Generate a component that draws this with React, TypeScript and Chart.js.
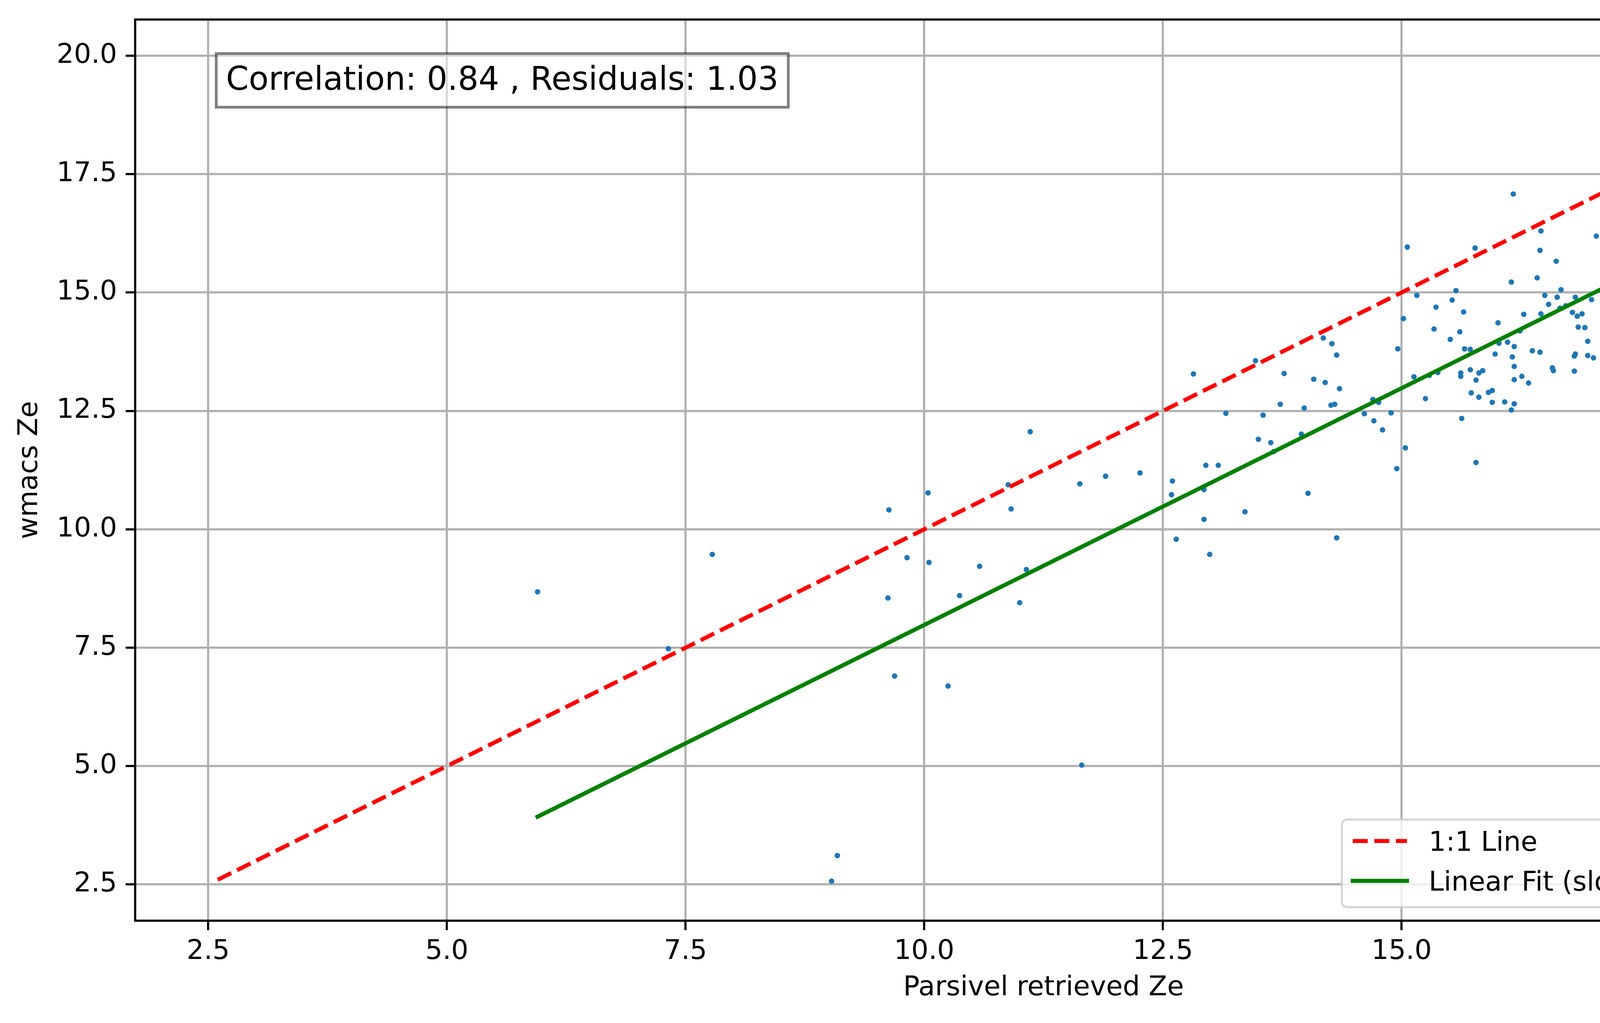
import { useEffect, useRef } from "react";
import Chart from "chart.js/auto";

// Parsivel retrieved Ze (x) and wmacs Ze (y), one entry per sample, rows of ten
const parsivelZe = [
  5.95, 7.32, 7.78, 9.69, 10.25, 11.65, 9.03, 9.09, 12.64, 12.99,
  14.32, 11.11, 9.63, 10.04, 10.88, 10.91, 11.63, 11.9, 9.82, 10.05,
  10.58, 11.07, 9.62, 10.37, 11.0, 12.82, 13.47, 13.77, 13.73, 13.98,
  13.16, 13.55, 13.95, 13.5, 13.63, 13.66, 12.95, 13.08, 12.26, 12.6,
  12.59, 12.93, 13.36, 12.93, 16.17, 15.06, 15.77, 16.46, 16.45, 16.62,
  16.42, 16.15, 15.57, 16.67, 15.16, 15.53, 15.36, 15.65, 15.02, 16.5,
  16.63, 16.82, 16.54, 16.66, 16.72, 16.79, 16.84, 16.89, 16.85, 16.28,
  16.46, 16.01, 15.34, 15.61, 16.24, 14.18, 14.27, 14.32, 14.96, 15.51,
  15.66, 15.72, 16.02, 16.11, 16.18, 15.98, 16.16, 16.37, 16.45, 16.82,
  16.81, 14.08, 14.2, 14.35, 14.26, 14.3, 14.7, 14.76, 14.61, 14.89,
  14.71, 14.8, 15.13, 15.29, 15.38, 15.25, 15.04, 14.95, 14.02, 15.62,
  15.62, 15.72, 15.81, 15.85, 15.78, 15.73, 15.81, 15.91, 15.95, 15.95,
  16.08, 16.18, 16.15, 15.63, 15.78, 16.18, 16.18, 16.26, 16.33, 16.58,
  16.59, 16.81, 18.06, 18.09, 17.89, 19.9, 19.78, 17.04, 17.11, 17.75,
  18.23, 18.67, 18.05, 16.99, 17.15, 17.19, 17.43, 17.18, 17.31, 17.26,
  17.4, 17.27, 16.92, 16.95, 17.31, 17.36, 16.95, 17.01, 17.24, 17.85,
  17.91, 17.94, 18.0,
];
const wmacsZe = [
  8.68, 7.48, 9.47, 6.9, 6.69, 5.02, 2.57, 3.11, 9.79, 9.47,
  9.82, 12.06, 10.41, 10.77, 10.94, 10.43, 10.96, 11.12, 9.4, 9.3,
  9.22, 9.15, 8.55, 8.6, 8.45, 13.28, 13.56, 13.29, 12.64, 12.56,
  12.45, 12.41, 12.01, 11.9, 11.83, 11.64, 11.35, 11.35, 11.19, 11.02,
  10.73, 10.84, 10.37, 10.21, 17.08, 15.96, 15.94, 16.3, 15.89, 15.66,
  15.31, 15.22, 15.04, 15.06, 14.94, 14.84, 14.69, 14.59, 14.45, 14.94,
  14.9, 14.9, 14.75, 14.67, 14.72, 14.58, 14.5, 14.55, 14.27, 14.54,
  14.55, 14.36, 14.23, 14.17, 14.19, 14.04, 13.92, 13.68, 13.81, 14.01,
  13.81, 13.8, 13.93, 13.95, 13.86, 13.7, 13.64, 13.77, 13.74, 13.7,
  13.66, 13.17, 13.1, 12.97, 12.62, 12.64, 12.74, 12.68, 12.44, 12.46,
  12.29, 12.1, 13.22, 13.25, 13.31, 12.76, 11.72, 11.28, 10.76, 13.3,
  13.23, 13.37, 13.3, 13.35, 13.15, 12.88, 12.79, 12.89, 12.93, 12.68,
  12.69, 12.65, 12.52, 12.34, 11.41, 13.44, 13.16, 13.23, 13.09, 13.41,
  13.35, 13.34, 17.01, 17.0, 16.55, 17.1, 16.83, 16.19, 15.68, 15.86,
  15.55, 15.62, 15.08, 14.85, 14.91, 14.59, 14.69, 14.42, 14.42, 14.32,
  14.32, 14.19, 14.26, 13.97, 13.97, 13.87, 13.67, 13.62, 13.46, 14.72,
  14.57, 13.93, 13.53,
];

// end points of the two reference lines
const oneToOneX = [2.6, 19.9];
const oneToOneY = [2.6, 19.9];
const fitX = [5.95, 19.9];
const fitY = [3.93, 17.88];

const axisTicks = [2.5, 5.0, 7.5, 10.0, 12.5, 15.0, 17.5, 20.0];
const axisMin = 1.735;
const axisMax = 20.765;

const noteText = "Correlation: 0.84 , Residuals: 1.03";
const oneToOneLabel = "1:1 Line";
const fitLabel = "Linear Fit (slope=1, intercept=-2.02)";
const xTitle = "Parsivel retrieved Ze";
const yTitle = "wmacs Ze";

const PT = 500 / 72; // one matplotlib point in px
const FONT = "'DejaVu Sans', sans-serif";
const FS = 10 * PT;
const NOTE_FS = 12 * PT;

const toPoints = (xs: number[], ys: number[]) => xs.map((x, i) => ({ x, y: ys[i] }));

// all four spines, on top of the data
const framePlugin = {
  id: "frame",
  afterDatasetsDraw(chart: any) {
    const { ctx, chartArea: a } = chart;
    ctx.save();
    ctx.strokeStyle = "#000";
    ctx.lineWidth = 0.8 * PT;
    ctx.strokeRect(a.left, a.top, a.right - a.left, a.bottom - a.top);
    ctx.restore();
  },
};

// the boxed text in the upper left corner
const notePlugin = {
  id: "note",
  afterDraw(chart: any) {
    const { ctx, chartArea: a } = chart;
    const x0 = a.left + 0.05 * (a.right - a.left);
    const base = a.top + 0.05 * (a.bottom - a.top) + 0.78 * NOTE_FS;
    ctx.save();
    ctx.font = `${NOTE_FS}px ${FONT}`;
    const w = ctx.measureText(noteText).width;
    const pad = 0.3 * NOTE_FS;
    const top = base - 1.12 * NOTE_FS;
    const bottom = base + 0.53 * NOTE_FS;
    ctx.fillStyle = "rgba(255,255,255,0.5)";
    ctx.fillRect(x0 - pad, top, w + 2 * pad, bottom - top);
    ctx.strokeStyle = "rgba(0,0,0,0.5)";
    ctx.lineWidth = PT;
    ctx.strokeRect(x0 - pad, top, w + 2 * pad, bottom - top);
    ctx.fillStyle = "#000";
    ctx.textBaseline = "alphabetic";
    ctx.textAlign = "left";
    ctx.fillText(noteText, x0, base);
    ctx.restore();
  },
};

// matplotlib style legend, lower right inside the axes
const legendPlugin = {
  id: "mplLegend",
  afterDraw(chart: any) {
    const { ctx, chartArea: a } = chart;
    const items = chart.data.datasets.filter((d: any) => d.showLine);
    ctx.save();
    ctx.font = `${FS}px ${FONT}`;
    const textW = Math.max(...items.map((d: any) => ctx.measureText(d.label).width));
    const pad = 0.4 * FS;
    const handle = 2 * FS;
    const gap = 0.8 * FS;
    const boxW = pad + handle + gap + textW + pad;
    const boxH = 3.23 * FS;
    const right = a.right - 0.5 * FS;
    const bottom = a.bottom - 0.5 * FS;
    const left = right - boxW;
    const top = bottom - boxH;

    ctx.beginPath();
    ctx.roundRect(left, top, boxW, boxH, 0.2 * FS);
    ctx.fillStyle = "rgba(255,255,255,0.8)";
    ctx.fill();
    ctx.strokeStyle = "rgba(204,204,204,0.8)";
    ctx.lineWidth = 0.8 * PT;
    ctx.stroke();

    items.forEach((d: any, i: number) => {
      const y = top + (0.79 + 1.47 * i) * FS;
      ctx.save();
      ctx.beginPath();
      ctx.strokeStyle = d.borderColor;
      ctx.lineWidth = d.borderWidth;
      ctx.setLineDash(d.borderDash || []);
      ctx.lineCap = d.borderCapStyle || "butt";
      ctx.moveTo(left + pad, y);
      ctx.lineTo(left + pad + handle, y);
      ctx.stroke();
      ctx.restore();
      ctx.fillStyle = "#000";
      ctx.textBaseline = "alphabetic";
      ctx.textAlign = "left";
      ctx.fillText(d.label, left + pad + handle + gap, y + 0.3645 * FS);
    });
    ctx.restore();
  },
};

const tickFont = { family: FONT, size: FS };
const gridStyle = {
  color: "#b0b0b0",
  lineWidth: 0.8 * PT,
  tickColor: "#000",
  tickWidth: 0.8 * PT,
  tickLength: 3.5 * PT,
};

export default function App() {
  const canvasRef = useRef<HTMLCanvasElement>(null);

  useEffect(() => {
    if (!canvasRef.current) return;
    const chart = new Chart(canvasRef.current, {
      type: "scatter",
      data: {
        datasets: [
          {
            label: oneToOneLabel,
            data: toPoints(oneToOneX, oneToOneY),
            showLine: true,
            pointRadius: 0,
            borderColor: "#ff0000",
            borderWidth: 1.5 * PT,
            borderDash: [3.7 * 1.5 * PT, 1.6 * 1.5 * PT],
            borderCapStyle: "butt",
            fill: false,
          },
          {
            label: fitLabel,
            data: toPoints(fitX, fitY),
            showLine: true,
            pointRadius: 0,
            borderColor: "#008000",
            borderWidth: 1.5 * PT,
            borderCapStyle: "square",
            fill: false,
          },
          {
            label: "samples",
            data: toPoints(parsivelZe, wmacsZe),
            pointRadius: 7,
            pointBorderWidth: 0,
            pointBackgroundColor: "#1f77b4",
            pointBorderColor: "#1f77b4",
          },
        ] as any,
      },
      options: {
        animation: false,
        responsive: true,
        maintainAspectRatio: false,
        events: [],
        layout: { padding: { top: 50, right: 51, bottom: 0, left: 0 } },
        plugins: { legend: { display: false }, tooltip: { enabled: false } },
        scales: {
          x: {
            type: "linear",
            min: axisMin,
            max: axisMax,
            afterBuildTicks: (s: any) => {
              s.ticks = axisTicks.map((value) => ({ value }));
            },
            afterFit: (s: any) => {
              s.height = 262;
              s.paddingLeft = 0;
              s.paddingRight = 0;
            },
            ticks: {
              callback: (v: any) => Number(v).toFixed(1),
              font: tickFont,
              color: "#000",
              padding: 14,
              maxRotation: 0,
              autoSkip: false,
            },
            grid: gridStyle,
            border: { display: false },
            title: {
              display: true,
              text: xTitle,
              font: tickFont,
              color: "#000",
              padding: { top: 0, bottom: 47 },
            },
          },
          y: {
            type: "linear",
            min: axisMin,
            max: axisMax,
            afterBuildTicks: (s: any) => {
              s.ticks = axisTicks.map((value) => ({ value }));
            },
            afterFit: (s: any) => {
              s.width = 346;
              s.paddingTop = 0;
              s.paddingBottom = 0;
            },
            ticks: {
              callback: (v: any) => Number(v).toFixed(1),
              font: tickFont,
              color: "#000",
              padding: 22,
              autoSkip: false,
            },
            grid: gridStyle,
            border: { display: false },
            title: {
              display: true,
              text: yTitle,
              font: tickFont,
              color: "#000",
              padding: { top: 35, bottom: 0 },
            },
          },
        },
      },
      plugins: [framePlugin, notePlugin, legendPlugin],
    });
    return () => chart.destroy();
  }, []);

  return (
    <div style={{ position: "absolute", left: 0, top: 0, width: 5048, height: 2620, background: "#fff" }}>
      <canvas ref={canvasRef} />
    </div>
  );
}
